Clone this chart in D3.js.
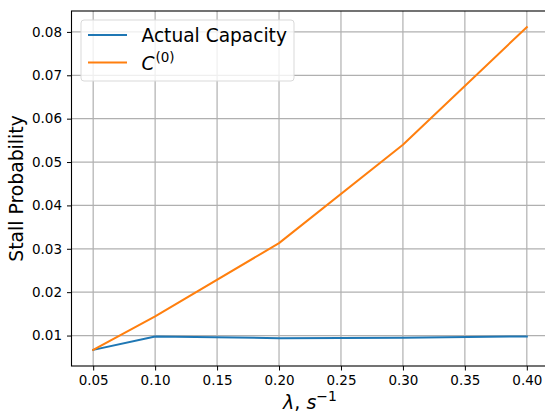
<!DOCTYPE html>
<html>
<head>
<meta charset="utf-8">
<script src="https://cdn.jsdelivr.net/npm/d3@7"></script>
<style>
html, body { margin: 0; padding: 0; background: #fff; }
svg { display: block; font-family: "DejaVu Sans", sans-serif; }
</style>
</head>
<body>
<svg id="chart" width="545" height="414"></svg>
<script>
const lambdas = [0.05, 0.10, 0.20, 0.30, 0.40];
const actualCapacity = [0.0067, 0.0098, 0.0094, 0.0095, 0.0098];
const c0 = [0.0067, 0.0144, 0.0313, 0.0540, 0.0811];
const xTicks = [0.05, 0.10, 0.15, 0.20, 0.25, 0.30, 0.35, 0.40];
const yTicks = [0.01, 0.02, 0.03, 0.04, 0.05, 0.06, 0.07, 0.08];
const seriesNames = ["Actual Capacity", "C"];
const colors = ["#1f77b4", "#ff7f0e"];

const svg = d3.select("#chart");
const L = 71.5, R = 548.5, T = 11, B = 366;

const xMin = 0.05, xMax = 0.40, xPad = (xMax - xMin) * 0.05;
const yAll = actualCapacity.concat(c0);
const yMin = d3.min(yAll), yMax = d3.max(yAll), yPad = (yMax - yMin) * 0.05;

const x = d3.scaleLinear().domain([xMin - xPad, xMax + xPad]).range([L, R]);
const y = d3.scaleLinear().domain([yMin - yPad, yMax + yPad]).range([B, T]);

// grid
const grid = svg.append("g");
grid.selectAll(".gx").data(xTicks).enter().append("line")
  .attr("x1", d => x(d)).attr("x2", d => x(d)).attr("y1", T).attr("y2", B)
  .attr("stroke", "#b0b0b0").attr("stroke-width", 1.2);
grid.selectAll(".gy").data(yTicks).enter().append("line")
  .attr("y1", d => y(d)).attr("y2", d => y(d)).attr("x1", L).attr("x2", R)
  .attr("stroke", "#b0b0b0").attr("stroke-width", 1.2);

// lines
const line = d3.line().x(d => x(d[0])).y(d => y(d[1]));
[actualCapacity, c0].forEach((vals, i) => {
  svg.append("path")
    .datum(lambdas.map((l, j) => [l, vals[j]]))
    .attr("d", line)
    .attr("fill", "none")
    .attr("stroke", colors[i])
    .attr("stroke-width", 2)
    .attr("stroke-linejoin", "round")
    .attr("stroke-linecap", "square");
});

// axes
const xAxis = d3.axisBottom(x).tickValues(xTicks).tickFormat(d3.format(".2f")).tickSize(4.5).tickPadding(5);
const yAxis = d3.axisLeft(y).tickValues(yTicks).tickFormat(d3.format(".2f")).tickSize(4.5).tickPadding(5);
const gx = svg.append("g").attr("transform", `translate(0,${B})`).call(xAxis);
const gy = svg.append("g").attr("transform", `translate(${L},0)`).call(yAxis);
[gx, gy].forEach(g => {
  g.select(".domain").remove();
  g.selectAll("line").attr("stroke", "#000").attr("stroke-width", 1);
  g.selectAll("text").attr("font-size", 13.5).attr("fill", "#000").attr("font-family", "DejaVu Sans");
});

// spines
svg.append("rect").attr("x", L).attr("y", T).attr("width", R - L).attr("height", B - T)
  .attr("fill", "none").attr("stroke", "#000").attr("stroke-width", 1.1);

// axis labels
const xl = svg.append("text").attr("x", (L + R) / 2).attr("y", 409)
  .attr("text-anchor", "middle").attr("font-size", 19).attr("fill", "#000");
xl.append("tspan").attr("font-style", "italic").text("λ");
xl.append("tspan").text(", ");
xl.append("tspan").attr("font-style", "italic").text("s");
xl.append("tspan").attr("dy", -8).attr("font-size", 14).text("−1");

svg.append("text").attr("transform", `translate(23,${(T + B) / 2}) rotate(-90)`)
  .attr("text-anchor", "middle").attr("font-size", 18.8).attr("fill", "#000")
  .text("Stall Probability");

// legend
const lg = svg.append("g");
lg.append("rect").attr("x", 81).attr("y", 20).attr("width", 213).attr("height", 61)
  .attr("rx", 3).attr("fill", "rgba(255,255,255,0.8)").attr("stroke", "#d9d9d9").attr("stroke-width", 1);
const rows = [35, 62.5];
rows.forEach((ry, i) => {
  lg.append("line").attr("x1", 88).attr("x2", 127).attr("y1", ry).attr("y2", ry)
    .attr("stroke", colors[i]).attr("stroke-width", 2);
});
lg.append("text").attr("x", 141.5).attr("y", 42).attr("font-size", 18.6).attr("fill", "#000").text(seriesNames[0]);
const t2 = lg.append("text").attr("x", 141.5).attr("y", 69.5).attr("font-size", 18.6).attr("fill", "#000");
t2.append("tspan").attr("font-style", "italic").text(seriesNames[1]);
t2.append("tspan").attr("dy", -8).attr("dx", 1).attr("font-size", 13.5).text("(0)");
</script>
</body>
</html>
